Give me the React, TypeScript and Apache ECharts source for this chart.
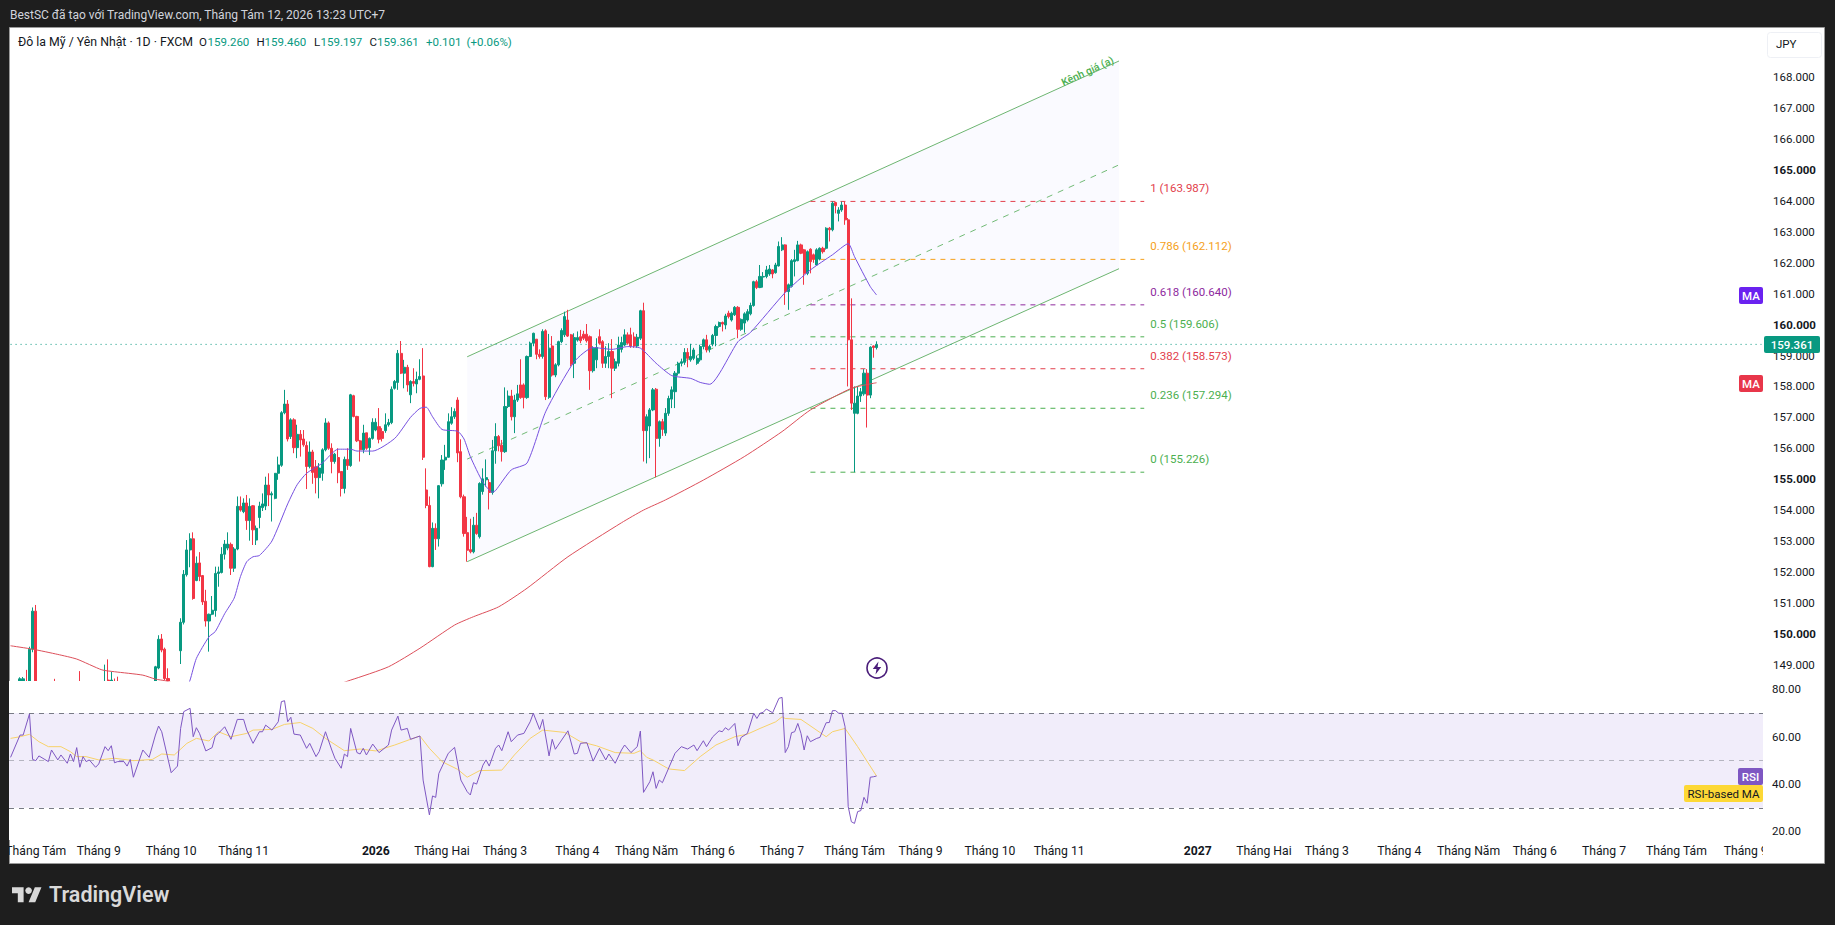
import React, { useEffect, useRef } from "react";
import * as echarts from "echarts";

// [open, close, low, high] per daily bar
const barsAugToOct: number[][] = [
  [147.2,147.5,146.9,147.9],[147.5,147.7,147.3,148.0],[147.7,147.9,147.5,148.2],[147.9,148.54,147.7,148.59],[148.1,148.54,147.9,148.6],
  [148.3,147.9,147.7,148.83],[147.9,149.5,147.7,149.58],[149.5,150.73,149.4,150.85],[150.73,147.6,147.2,150.93],[147.6,147.4,147.0,148.0],
  [147.4,147.8,147.2,148.1],[147.8,147.5,147.3,148.0],[147.5,147.7,147.2,148.0],[147.7,147.3,147.1,147.9],[148.0,147.7,147.4,148.54],
  [147.7,147.4,147.2,147.9],[147.4,147.8,147.2,148.1],[147.8,147.5,147.3,148.0],[147.5,147.2,147.0,147.8],[147.2,147.6,147.0,147.9],
  [147.6,147.3,147.1,147.8],[147.3,147.7,147.1,148.0],[148.2,147.9,147.6,148.79],[147.9,147.5,147.3,148.1],[147.5,147.4,147.1,147.8],
  [147.4,147.7,147.2,148.0],[147.7,147.3,147.1,147.9],[147.3,147.2,146.9,147.6],[147.2,147.6,147.0,147.9],[147.6,147.9,147.4,148.2],
  [147.9,148.3,147.7,149.0],[148.5,148.0,147.8,149.17],[148.0,148.5,147.8,148.77],[148.45,148.2,148.0,148.55],[148.3,148.0,147.8,148.61],
  [148.0,147.6,147.4,148.2],[147.6,147.3,147.1,147.9],[147.3,147.5,147.0,147.8],[147.5,147.1,146.9,147.7],[147.1,147.0,146.7,147.4],
  [147.0,147.3,146.8,147.5],[147.3,147.1,146.9,147.6],[147.1,147.5,146.9,147.7],[147.5,147.2,147.0,147.8],[147.2,147.6,147.0,147.9],
  [147.6,148.0,147.4,148.2],[148.0,148.93,147.9,148.96],[148.89,149.82,148.85,149.95],[149.83,149.47,149.4,149.99],[149.5,148.55,148.5,149.55],
  [148.55,148.3,148.1,148.88],[148.3,148.1,147.8,148.4],[148.1,148.2,147.9,148.4],[148.2,148.0,147.8,148.4],[149.45,150.37,149.02,150.5],
  [150.37,151.92,150.3,152.06],[151.91,152.71,151.85,153.03],[152.71,153.07,152.15,153.25],[153.07,151.14,151.1,153.28],[151.72,152.28,151.7,152.5],
  [152.29,151.85,151.7,152.64],[151.88,151.03,150.93,151.9],[151.05,150.41,150.23,151.42],[150.41,150.63,149.42,150.65],[150.63,150.76,150.6,151.22],
  [150.75,151.95,150.55,152.17],[151.95,152.0,151.52,152.17],[151.98,152.57,151.95,152.8],[152.57,152.9,152.4,153.03],[152.77,152.9,152.7,153.28],
];
const barsNovToJan: number[][] = [
  [152.89,152.12,151.9,152.95],[152.12,152.74,152.0,152.8],[152.74,154.12,152.7,154.44],[154.12,154.0,153.95,154.44],[153.95,154.23,153.9,154.38],
  [154.23,153.66,153.36,154.49],[153.66,154.12,153.01,154.38],[154.14,153.36,152.87,154.16],[153.03,153.41,152.87,153.5],[153.76,154.13,153.41,154.27],
  [154.08,154.2,153.97,154.54],[154.13,154.81,154.0,155.08],[154.81,154.49,154.13,155.19],[154.49,154.53,153.63,154.6],[154.38,155.19,154.35,155.2],
  [155.19,155.46,154.98,155.73],[155.45,157.15,155.4,157.2],[157.15,157.43,157.1,157.89],[157.43,156.3,156.22,157.56],[156.38,156.92,156.3,156.97],
  [156.92,156.02,155.84,156.97],[156.02,156.45,155.68,156.76],[156.45,156.27,155.73,156.59],[156.3,156.11,156.05,156.59],[156.09,155.41,154.68,156.22],
  [155.41,155.88,155.35,156.22],[155.88,155.22,154.85,155.95],[155.4,155.05,154.54,155.62],[155.05,155.36,154.38,155.52],[155.19,155.95,154.95,156.0],
  [155.95,156.82,155.9,156.97],[156.82,156.0,155.95,156.87],[156.0,155.57,155.19,156.16],[155.57,155.81,155.5,155.85],[155.7,155.21,154.87,156.0],
  [155.25,154.7,154.44,155.25],[154.7,155.64,154.54,155.73],[155.64,155.44,155.3,156.0],[155.44,157.73,155.4,157.76],[157.7,157.03,157.0,157.73],
  [157.03,156.24,156.2,157.05],[156.24,155.95,155.57,156.27],[155.95,156.49,155.84,156.76],[156.5,156.0,155.95,156.5],[156.02,156.32,155.78,156.35],
  [156.32,156.84,156.28,156.97],[156.59,156.84,156.55,156.97],[156.7,156.29,156.16,157.3],[156.54,156.32,156.22,156.65],[156.57,156.76,156.5,157.13],
  [156.76,156.83,156.7,156.95],[156.83,157.91,156.78,158.0],[157.94,158.16,157.9,158.21],[158.13,159.07,157.89,159.18],[159.07,158.43,158.4,159.47],
  [158.43,158.62,157.94,158.86],[158.62,158.05,157.83,158.7],[157.73,158.16,157.46,158.2],[158.16,158.1,158.0,158.59],[158.08,158.23,157.78,158.48],
  [158.23,158.32,158.2,158.88],[158.34,155.71,155.62,159.24],[154.65,154.15,154.06,155.35],[154.15,152.17,152.15,154.44],[152.17,153.41,152.15,153.6],
  [153.41,153.07,152.71,153.57],[153.07,154.79,152.82,154.81],[154.85,155.62,154.76,155.78],[155.62,155.71,155.3,156.11],
];
const barsFebToApr: number[][] = [
  [155.71,156.86,155.7,157.13],[156.81,157.02,156.76,157.33],[157.02,157.19,156.95,157.29],[157.56,155.85,155.55,157.65],[155.89,154.43,154.38,156.29],
  [154.43,153.24,153.14,154.5],[153.27,152.7,152.33,153.78],[152.72,152.65,152.6,153.72],[152.65,153.51,152.6,153.78],[153.51,153.24,153.2,153.91],
  [153.14,154.86,153.08,154.9],[154.6,155.01,154.5,155.35],[154.98,155.05,154.76,155.64],[154.89,154.57,154.02,155.0],[154.57,155.92,154.5,156.27],
  [155.92,156.38,155.5,156.81],[156.38,156.08,155.9,156.43],[156.1,155.89,155.57,156.27],[155.89,157.35,155.85,157.97],[157.35,157.69,157.3,157.87],
  [157.69,157.02,156.9,157.89],[157.02,157.56,156.49,157.73],[157.56,157.76,157.5,158.05],[158.05,157.64,157.6,158.88],[158.05,157.64,157.29,158.1],
  [157.64,158.97,157.6,159.0],[158.97,159.4,158.95,159.45],[159.4,159.72,159.3,159.74],[159.53,159.04,158.88,159.53],[159.04,158.97,158.9,159.2],
  [158.97,159.78,158.9,159.85],[159.8,157.67,157.56,159.85],[157.65,159.24,157.6,159.7],[159.31,158.37,158.32,159.63],[158.37,158.7,158.3,158.75],
  [158.7,159.45,158.65,159.48],[159.45,159.81,159.4,159.88],[159.67,160.26,159.6,160.42],[160.15,159.63,159.6,160.48],[159.67,158.72,158.65,159.7],
  [158.75,159.58,158.27,159.72],[159.5,159.58,159.45,159.78],[159.61,159.48,159.4,159.83],[159.69,159.56,159.5,159.8],[159.69,159.48,159.42,160.02],
  [159.61,158.51,157.89,159.65],[158.51,159.24,158.45,159.3],[158.86,159.26,158.59,159.56],[159.61,159.4,159.35,159.85],[159.45,158.75,158.6,159.5],
  [158.75,158.97,158.6,159.3],[158.97,159.13,158.59,159.4],[159.13,158.59,157.62,159.53],[158.59,158.8,158.5,158.9],[158.75,159.34,158.65,159.61],
  [159.2,159.42,159.1,159.61],[159.34,159.67,159.3,159.85],[159.67,159.4,159.35,159.75],[159.67,159.31,159.25,159.9],[159.6,159.31,159.25,159.75],
  [159.31,159.59,159.25,159.7],[159.56,160.45,159.5,160.48],
];
const barsMayToAug: number[][] = [
  [160.45,156.57,155.57,160.71],[156.57,157.02,155.51,157.1],[156.72,157.24,155.68,157.3],[157.24,157.89,157.2,157.95],[157.91,156.32,155.06,157.95],
  [156.32,156.86,156.05,156.9],[156.86,156.61,156.4,156.95],[156.49,157.13,156.4,157.3],[157.13,157.61,157.05,157.7],[157.59,157.89,157.3,158.0],
  [157.83,158.43,157.3,158.5],[158.43,158.75,158.35,158.8],[158.75,158.8,158.65,158.9],[158.78,159.1,158.7,159.24],[159.1,158.91,158.62,159.24],
  [158.86,158.97,158.8,159.38],[158.91,159.18,158.85,159.25],[158.75,158.91,158.7,159.0],[158.86,159.29,158.8,159.35],[159.29,159.51,159.2,159.55],
  [159.51,159.18,159.1,159.67],[159.2,159.29,159.1,159.35],[159.37,159.65,159.3,159.7],[159.65,159.94,159.3,160.0],[159.94,160.07,159.9,160.1],
  [160.07,160.02,159.78,160.1],[159.99,160.28,159.85,160.35],[160.37,160.26,160.2,160.45],[160.15,160.37,160.1,160.42],[160.32,160.56,160.28,160.6],
  [160.56,159.85,159.56,160.6],[159.85,160.17,159.8,160.2],[160.05,160.35,159.74,160.4],[160.15,160.42,160.1,160.5],[160.35,160.62,160.3,160.71],
  [160.62,161.39,160.58,161.42],[161.39,161.2,161.15,161.45],[161.2,161.56,161.18,161.93],[161.54,161.56,161.2,161.7],[161.56,161.77,161.5,161.9],
  [161.64,161.8,161.58,161.93],[161.77,161.64,161.5,161.8],[161.68,161.93,161.65,162.0],[161.9,162.53,161.88,162.69],[162.42,162.58,162.38,162.83],
  [162.58,161.07,160.64,162.6],[161.07,161.29,160.48,161.33],[161.24,162.07,161.2,162.12],[162.04,162.1,161.56,162.42],[162.07,162.58,162.05,162.71],
  [162.58,162.31,162.28,162.62],[162.42,161.66,161.29,162.45],[161.66,162.36,161.6,162.4],[162.44,162.04,161.66,162.47],[162.26,162.12,162.0,162.3],
  [161.93,162.42,161.9,162.47],[162.12,162.47,162.08,162.5],[162.47,162.36,162.3,162.52],[162.47,163.12,162.43,163.15],[163.12,163.07,162.69,163.16],
  [163.07,163.93,163.02,163.987],[163.95,163.85,163.6,163.96],[163.6,163.71,163.34,163.8],[163.71,163.87,163.65,163.98],[163.87,163.39,163.23,163.98],
  [163.39,159.51,158.0,163.45],[159.51,157.46,157.24,160.85],[157.13,157.46,155.226,158.0],[157.13,157.69,157.1,158.0],[157.69,157.83,157.5,157.95],
  [157.76,158.43,157.7,158.56],[158.43,157.72,156.67,158.56],[157.72,159.27,157.62,159.3],[159.31,159.26,158.93,159.33],[159.26,159.361,159.197,159.46],
];
const priceBars = [...barsAugToOct, ...barsNovToJan, ...barsFebToApr, ...barsMayToAug];

const ma20: number[][] = [
  [55,148.0],[57,148.5],[59,149.2],[63,149.9],[65,150.07],[68,150.65],[71,151.15],[73,151.85],[75,152.33],[77,152.49],[79,152.53],[83,153.0],
  [88,154.2],[91,154.82],[94,155.19],[99,155.52],[104,155.97],[108,155.97],[110,155.91],[115,155.91],[122,156.32],[127,157.0],[130,157.29],
  [132,157.33],[134,157.02],[137,156.61],[142,156.55],[144,156.3],[146,155.73],[150,154.9],[153,154.58],[154,154.63],[159,155.3],[164,155.52],
  [170,157.2],[179,158.8],[185,159.26],[191,159.2],[196,159.29],[200,159.24],[205,158.75],[210,158.35],[216,158.26],[219,158.13],[222,158.07],
  [231,159.45],[235,159.75],[246,161.04],[254,161.77],[261,162.26],[266,162.62],[268,162.2],[273,161.23],[275,160.96],
];
const ma200: number[][] = [
  [0,149.61],[7,149.5],[15,149.33],[21,149.18],[29,148.83],[33,148.77],[42,148.66],[46,148.53],[49,148.48],[80,147.6],[108,148.5],[120,148.93],
  [130,149.53],[141,150.28],[147,150.55],[155,150.87],[164,151.47],[177,152.49],[194,153.59],[201,154.0],[208,154.33],[220,154.97],[233,155.73],
  [245,156.54],[254,157.24],[267,157.94],[275,158.12],
];
const rsiLine: number[][] = [
  [0,51.3],[3,60.7],[4,60.7],[6,69.6],[7,50.4],[8,49.9],[9,51.9],[12,49.5],[13,54.4],[15,50.2],[16,52.3],[18,48.8],[19,52.7],[20,49.5],[21,55.4],
  [22,47.1],[23,51.6],[24,49.5],[25,50.2],[27,47.1],[28,48.5],[30,55.8],[31,54.1],[32,56.2],[33,49],[34,49.5],[36,49.5],[37,47.6],[38,50.4],[39,42.9],
  [42,54.4],[44,51.3],[46,60.7],[47,64.5],[48,62.1],[51,44.8],[53,47.6],[54,63.5],[55,70.6],[57,72],[58,60],[59,63.8],[60,61.4],[62,54],[64,55.4],
  [65,60.3],[66,61.4],[68,64.2],[70,58.9],[72,67.3],[74,67.3],[75,62.8],[77,57.2],[79,62.1],[80,62.1],[81,64.9],[83,62.8],[85,66.3],[86,74.8],[87,75.2],
  [88,66.3],[89,68.2],[90,61.1],[92,60.7],[94,55.1],[95,57.2],[97,51.6],[98,53.7],[100,62.1],[102,54.4],[103,50.9],[105,46.7],[106,52.7],[107,51.6],
  [108,63.5],[110,53.3],[111,52.7],[112,55.1],[113,52.3],[115,56.9],[117,53.3],[120,56.5],[121,62.8],[123,68.7],[124,62.8],[126,63.5],[127,58.9],
  [130,60.3],[131,41.7],[133,27],[134,35],[135,34.4],[136,44.5],[139,53],[141,55.5],[143,41.7],[145,36.8],[146,35.4],[147,40.6],[148,40],[150,48],
  [151,50.2],[152,47.6],[154,55.1],[155,56.5],[156,54.1],[158,62.1],[159,57.9],[161,60.7],[163,61.4],[165,66.3],[166,69.9],[168,63.1],[169,67.3],
  [171,51.9],[172,58.9],[173,54.7],[177,62.5],[179,52.7],[180,53],[181,57.2],[183,57.5],[185,49.7],[187,55.1],[189,50.2],[190,52.7],[192,48.8],
  [194,54.4],[195,56.5],[197,53.3],[199,55.8],[200,62.4],[201,36.5],[203,41],[204,45.2],[205,38.2],[206,41.7],[207,40.6],[211,53],[213,55.8],[215,54.8],
  [217,56.5],[218,54.1],[220,58.3],[221,55.8],[223,60],[225,62.5],[226,62.1],[227,63.8],[228,62.8],[230,65.6],[231,56.2],[232,59.7],[234,61.4],
  [236,69.9],[237,67.7],[238,69.9],[239,70.3],[240,71.7],[242,70.1],[244,76.2],[245,76.6],[246,53.3],[247,55.8],[248,61.7],[249,62.1],[250,65.6],
  [251,61.4],[252,54.4],[253,60.4],[254,57.9],[256,59.3],[257,59.7],[259,65.9],[260,66],[261,71],[262,71],[263,69.9],[264,69.9],[265,64.2],[266,30.5],
  [267,24.1],[268,23.4],[269,28.4],[270,28.8],[271,34.4],[272,31.9],[273,42.9],[274,43.1],[275,43.4],
];
const rsiMa: number[][] = [
  [0,59.3],[3,60],[6,61],[9,57.9],[12,55.8],[16,55.8],[19,53.7],[21,51.6],[24,51.6],[28,50.2],[33,50.9],[39,49.9],[45,50.4],[48,52.7],[52,52.3],[56,57.2],
  [59,59.3],[63,58.2],[66,62.1],[70,60],[75,61.4],[77,62.8],[83,63.1],[87,65.2],[92,66],[96,63.5],[100,59.3],[106,54.1],[111,54.8],[116,54],[122,56.5],
  [127,58.9],[130,60.3],[133,55.1],[137,49.5],[142,46.2],[145,42.9],[149,45.7],[156,45.9],[160,52.3],[165,59.3],[169,62.8],[176,61.8],[181,57.9],[186,56.2],
  [192,53.3],[198,53],[200,54.1],[202,51.3],[204,50.2],[209,46.4],[214,45.7],[219,51.6],[224,56.5],[230,60],[234,61.1],[238,63.5],[243,66.3],[245,68.4],
  [246,67.7],[251,67.3],[259,60],[261,62.1],[265,63.5],[269,55.8],[275,43.4],
];
const channelTop = [[145,158.96],[352,168.53]];
const channelMid = [[145,155.65],[352,165.17]];
const channelBottom = [[145,152.33],[352,161.81]];
const fibLevels: [string, number, string][] = [
  ["1",163.987,"#e2404c"],["0.786",162.112,"#f59f1a"],["0.618",160.64,"#8e2a9e"],["0.5",159.606,"#4caf50"],
  ["0.382",158.573,"#e2404c"],["0.236",157.294,"#4caf50"],["0",155.226,"#4caf50"],
];
const lastPrice = 159.361;
const priceTicks = [149,150,151,152,153,154,155,156,157,158,159,160,161,162,163,164,165,166,167,168];
const boldPriceTicks = [150,155,160,165];
const rsiTicks = [20,40,60,80];
const rsiLevels = [70,50,30];
const timeTickBars = [8,28,51,74,116,137,157,180,202,223,245,268,289,311,333,377,398,418,441,463,484,506,529,551];
const timeTickLabels = ["Tháng Tám","Tháng 9","Tháng 10","Tháng 11","2026","Tháng Hai","Tháng 3","Tháng 4","Tháng Năm","Tháng 6","Tháng 7","Tháng Tám","Tháng 9","Tháng 10","Tháng 11","2027","Tháng Hai","Tháng 3","Tháng 4","Tháng Năm","Tháng 6","Tháng 7","Tháng Tám","Tháng 9"];
const legendParts: [string, number, string, number][] = [
  ["Đô la Mỹ / Yên Nhật · 1D · FXCM",18,"#131722",12.3],["O",199,"#131722",11.5],["159.260",207.5,"#089981",11.5],["H",256.5,"#131722",11.5],["159.460",264.5,"#089981",11.5],
  ["L",314,"#131722",11.5],["159.197",320.5,"#089981",11.5],["C",369.5,"#131722",11.5],["159.361",377,"#089981",11.5],["+0.101",426,"#089981",11.5],["(+0.06%)",466.5,"#089981",11.5],
];

const BAR_SLOTS = 557;
const FONT = "Roboto";
const UP = "#089981";
const DOWN = "#f23645";
const logoPath = "M14 22H7V11H0V4h14v18zM28 22h-8l7.5-18h8L28 22z";

function txt(text: string, x: number, y: number, fill: string, extra: any = {}, z = 60) {
  return {
    type: "text", x, y, z, silent: true,
    rotation: extra.rotation || 0,
    style: { text, fill, fontFamily: FONT, fontSize: extra.fontSize || 11.5, fontWeight: extra.fontWeight || "normal",
      align: extra.align || "left", verticalAlign: "middle" },
  };
}
function tag(x: number, y: number, w: number, h: number, fill: string, r = 2, stroke?: string) {
  return { type: "rect", z: 55, silent: true, shape: { x, y, width: w, height: h, r }, style: { fill, stroke: stroke || "none", lineWidth: stroke ? 1 : 0 } };
}
function line(name: string, data: number[][], color: string, extra: any = {}) {
  return {
    type: "line", name, data, symbol: "none", showSymbol: false, silent: true, z: extra.z ?? 4,
    xAxisIndex: extra.pane ?? 0, yAxisIndex: extra.pane ?? 0,
    lineStyle: { color, width: extra.width ?? 1, type: extra.type ?? "solid" },
    ...(extra.more || {}),
  };
}

export default function App() {
  const ref = useRef<HTMLDivElement>(null);
  useEffect(() => {
    document.body.style.margin = "0";
    document.body.style.background = "#1e1e1e";
    echarts.graphic.registerShape("tvlogo", echarts.graphic.extendPath(logoPath as any, {}) as any);
    const chart = echarts.init(ref.current!, undefined, { renderer: "svg", width: 1835, height: 925 });
    const slots = Array.from({ length: BAR_SLOTS }, (_, i) => String(i));
    const tickMap = new Map(timeTickBars.map((b, i) => [b, timeTickLabels[i]]));
    const option: any = {
      animation: false,
      backgroundColor: "#1e1e1e",
      tooltip: { show: false },
      grid: [
        { left: 9, top: 27, width: 1754, height: 654 },
        { left: 9, top: 682, width: 1754, height: 158 },
      ],
      xAxis: [
        { type: "category", gridIndex: 0, data: slots, boundaryGap: true, axisLine: { show: false }, axisTick: { show: false }, axisLabel: { show: false }, splitLine: { show: false } },
        { type: "category", gridIndex: 1, data: slots, boundaryGap: true, axisLine: { show: false }, axisTick: { show: false }, splitLine: { show: false },
          axisLabel: {
            interval: (i: number) => tickMap.has(i), margin: 5, hideOverlap: false, fontFamily: FONT, fontSize: 12.2, color: "#131722",
            formatter: (v: string) => {
              const t = tickMap.get(Number(v)) || "";
              return /^\d+$/.test(t) ? `{b|${t}}` : t;
            },
            rich: { b: { fontFamily: FONT, fontSize: 12.2, fontWeight: "bold", color: "#131722" } },
          } },
      ],
      yAxis: [
        { type: "value", gridIndex: 0, position: "right", min: 148.47, max: 169.63, axisLine: { show: false }, axisTick: { show: false }, splitLine: { show: false },
          axisLabel: {
            customValues: priceTicks, margin: 10, fontFamily: FONT, fontSize: 11.5, color: "#131722",
            formatter: (v: number) => (boldPriceTicks.includes(v) ? `{b|${v.toFixed(3)}}` : v.toFixed(3)),
            rich: { b: { fontFamily: FONT, fontSize: 11.5, fontWeight: "bold", color: "#131722" } },
          } },
        { type: "value", gridIndex: 1, position: "right", min: 16.4, max: 83.1, axisLine: { show: false }, axisTick: { show: false }, splitLine: { show: false },
          axisLabel: { customValues: rsiTicks, margin: 9, fontFamily: FONT, fontSize: 11.5, color: "#131722", formatter: (v: number) => v.toFixed(2) } },
      ],
      series: [
        {
          type: "custom", name: "channel", xAxisIndex: 0, yAxisIndex: 0, z: 1, silent: true, data: [[0]], clip: false,
          renderItem: (_p: any, api: any) => ({
            type: "polygon",
            shape: { points: [channelTop[0], channelTop[1], channelBottom[1], channelBottom[0]].map((c) => api.coord(c)) },
            style: { fill: "#fafaff", stroke: "none" },
          }),
        },
        line("channelTop", channelTop, "#6db571", { z: 2 }),
        line("channelBottom", channelBottom, "#6db571", { z: 2 }),
        line("channelMid", channelMid, "#72ba76", { z: 2, type: [6, 6] }),
        ...fibLevels.map(([name, value, color]) =>
          line(`fib ${name}`, [[254, value], [360, value]], color, {
            z: 2, type: [5, 5],
            more: { endLabel: { show: true, formatter: () => `${name} (${value.toFixed(3)})`, color, fontFamily: FONT, fontSize: 11.5, offset: [-2, -13], align: "left" } },
          })),
        line("lastPrice", [[0, lastPrice], [556, lastPrice]], UP, { z: 2, type: [1, 4] }),
        {
          type: "candlestick", name: "USDJPY", xAxisIndex: 0, yAxisIndex: 0, z: 3, silent: true, data: priceBars, barWidth: 2.6, clip: true,
          itemStyle: { color: UP, color0: DOWN, borderColor: UP, borderColor0: DOWN, borderWidth: 1 },
        },
        { ...line("MA 20", ma20, "#7650e0"), smooth: 0.2 },
        { ...line("MA 200", ma200, "#dc4f5a"), smooth: 0.2 },
        {
          ...line("RSI", rsiLine, "#7e57c2", { pane: 1, z: 5 }),
          markArea: { silent: true, z: 3.6, itemStyle: { color: "#f1edfa" }, data: [[{ yAxis: rsiLevels[0] }, { yAxis: rsiLevels[2] }]] },
          markLine: {
            silent: true, symbol: "none", z: 3.7, label: { show: false },
            data: rsiLevels.map((l, i) => ({ yAxis: l, lineStyle: { color: i === 1 ? "#b5b5c0" : "#787b86", width: 1, type: [5, 5] } })),
          },
        },
        line("RSI MA", rsiMa, "#f7d26a", { pane: 1, z: 4 }),
      ],
      graphic: {
        elements: [
          { type: "rect", z: -10, silent: true, shape: { x: 9.5, y: 27.5, width: 1815, height: 836 }, style: { fill: "#ffffff", stroke: "#9a9a9a", lineWidth: 1 } },
          // hides the part of each candle that falls below the price pane
          { type: "rect", z: 3.5, silent: true, shape: { x: 9, y: 681, width: 1754, height: 159 }, style: { fill: "#ffffff" } },
          { type: "rect", z: 50, silent: true, shape: { x: 0, y: 842, width: 9, height: 22 }, style: { fill: "#1e1e1e" } },
          { type: "rect", z: 50, silent: true, shape: { x: 1763, y: 842, width: 61, height: 21 }, style: { fill: "#ffffff" } },
          txt("BestSC đã tạo với TradingView.com, Tháng Tám 12, 2026 13:23 UTC+7", 10, 15, "#d1d4dc", { fontSize: 12 }),
          ...legendParts.map(([t, x, c, s]) => txt(t, x, 42, c, { fontSize: s })),
          txt("Kênh giá (a)", 1062, 83, "#4caf50", { fontSize: 10.5, fontWeight: 500, rotation: 0.43 }),
          tag(1767.5, 32.5, 54, 25, "#ffffff", 3, "#eef0f5"),
          txt("JPY", 1776, 44, "#131722"),
          tag(1764, 336, 56, 17, UP),
          txt("159.361", 1792, 345, "#ffffff", { align: "center", fontWeight: 500 }),
          tag(1739, 287, 24, 17, "#6a22f0"),
          txt("MA", 1751, 296, "#ffffff", { align: "center", fontWeight: 500 }),
          tag(1739, 375, 24, 17, "#e8364a"),
          txt("MA", 1751, 384, "#ffffff", { align: "center", fontWeight: 500 }),
          tag(1738, 768, 25, 17, "#7e57c2"),
          txt("RSI", 1750.5, 777, "#ffffff", { align: "center", fontWeight: 500 }),
          tag(1684, 785, 79, 17, "#fdd835"),
          txt("RSI-based MA", 1723.5, 794, "#131722", { align: "center" }),
          { type: "circle", z: 56, silent: true, shape: { cx: 877, cy: 668, r: 10 }, style: { fill: "#ffffff", stroke: "#4a1d7a", lineWidth: 1.6 } },
          { type: "polygon", z: 57, silent: true, shape: { points: [[878.5, 661.5], [872.8, 669], [876.5, 669], [875.5, 674.5], [881.2, 667], [877.5, 667]] }, style: { fill: "#4a1d7a" } },
          { type: "tvlogo", z: 60, silent: true, x: 12, y: 884, scaleX: 0.83, scaleY: 0.83, style: { fill: "#d9d9d9" } },
          { type: "circle", z: 60, silent: true, shape: { cx: 28.6, cy: 890.6, r: 3.3 }, style: { fill: "#d9d9d9" } },
          txt("TradingView", 49, 894.5, "#d9d9d9", { fontSize: 21.5, fontWeight: 600 }),
        ],
      },
    };
    chart.setOption(option);
    return () => chart.dispose();
  }, []);
  return <div ref={ref} style={{ width: 1835, height: 925 }} />;
}
